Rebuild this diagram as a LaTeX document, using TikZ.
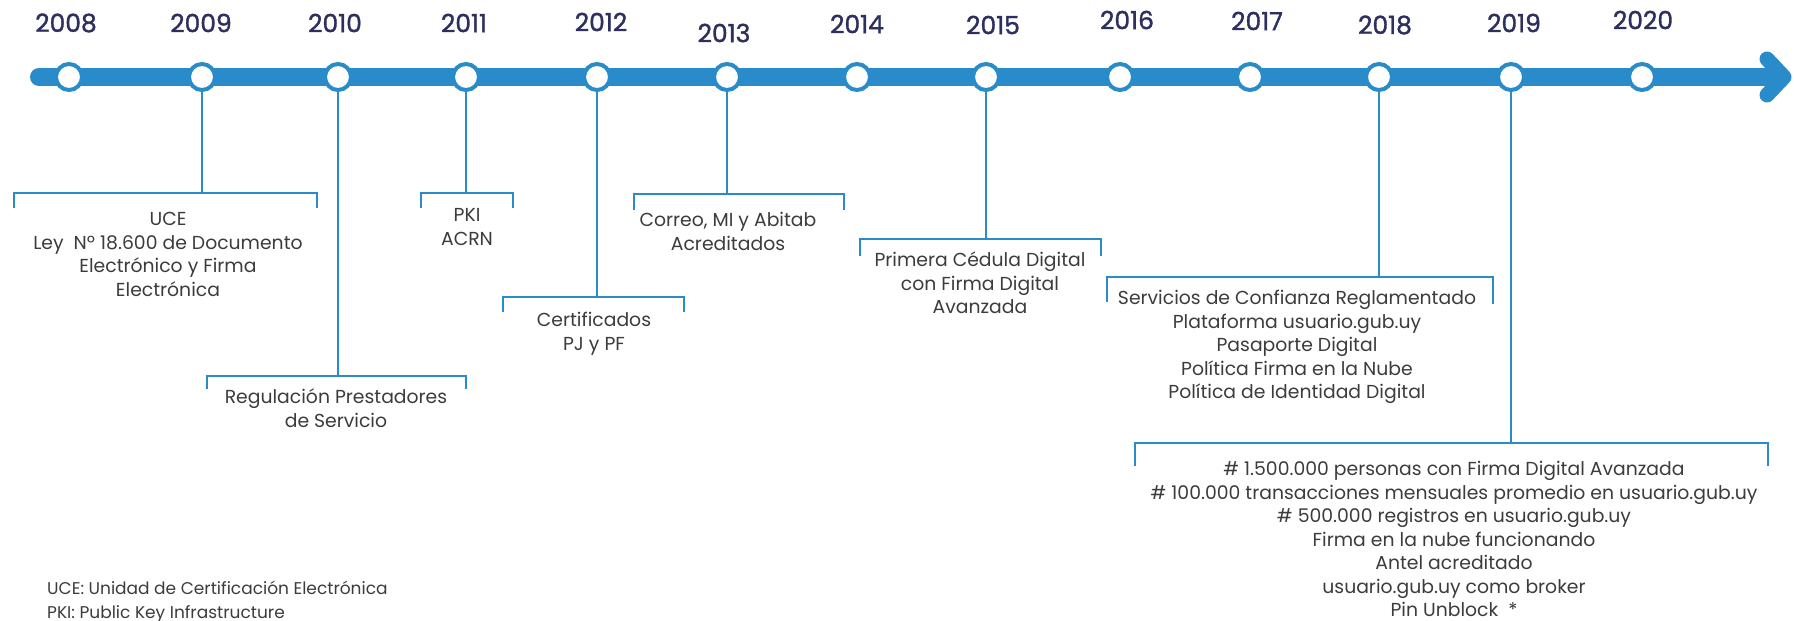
\documentclass[tikz,border=0pt]{standalone}
\usepackage{fontspec}
\setmainfont{Poppins}
\newfontfamily\yearfont{Poppins}[FakeBold=1.3]
\definecolor{tlblue}{HTML}{2A8BCB}
\definecolor{yearc}{HTML}{2D2F5F}
\definecolor{txtc}{HTML}{3C3C3C}
\begin{document}
\begin{tikzpicture}[x=1pt,y=-1pt,
  bar/.style={draw=tlblue, line width=18pt, line cap=round},
  year/.style={text=yearc, font=\yearfont\fontsize{25}{30}\selectfont, inner sep=0pt},
  dot/.style={circle, draw=tlblue, fill=white, line width=4pt, minimum size=26pt, inner sep=0pt},
  link/.style={draw=tlblue, line width=2.6pt},
  info/.style={text=txtc, font=\fontsize{18.8}{23.5}\selectfont, align=center, inner sep=0pt, anchor=north},
  legend/.style={text=txtc, font=\fontsize{17}{24}\selectfont, align=left, inner sep=0pt, anchor=north west}]
\useasboundingbox (0,0) rectangle (1794,621);
\fill[white] (0,0) rectangle (1794,621);

% timeline
\coordinate (tlstart) at (39,77);
\coordinate (tlend) at (1778,77);
\coordinate (tltip) at (1784,77);
\coordinate (armtop) at (1767,59);
\coordinate (armbot) at (1767,95);
\draw[bar] (tlstart) -- (tlend);
\draw[bar, line width=15pt, line join=round] (armtop) -- (tltip) -- (armbot);

\foreach \yr/\x in {2008/69, 2009/202, 2010/338, 2011/466, 2012/597, 2013/727, 2014/857,
                    2015/986, 2016/1120, 2017/1250, 2018/1379, 2019/1511, 2020/1642}
  \node[dot] (c\yr) at (\x,77) {};

\foreach \yr/\x/\y in {2008/66/23, 2009/201/23, 2010/335/23, 2011/464/23, 2012/601/22,
                       2013/724/33, 2014/857/24, 2015/993/25, 2016/1127/20, 2017/1257/21,
                       2018/1385/25, 2019/1514/23, 2020/1643/20}
  \node[year] (y\yr) at (\x,\y) {\yr};

% junction points on the brackets
\coordinate (j2009) at (202,193);
\coordinate (j2010) at (338,376);
\coordinate (j2011) at (466,193);
\coordinate (j2012) at (597,297);
\coordinate (j2013) at (727,194);
\coordinate (j2015) at (986,239);
\coordinate (j2018) at (1379,277);
\coordinate (j2019) at (1511,443);

\foreach \yr in {2009,2010,2011,2012,2013,2015,2018,2019}
  \draw[link] (c\yr.south) -- (j\yr);

% brackets
\draw[link] (14,208) |- (j2009) -| (317,208);
\draw[link] (207,389) |- (j2010) -| (466,389);
\draw[link] (421,208) |- (j2011) -| (513,208);
\draw[link] (503,312) |- (j2012) -| (684,312);
\draw[link] (634,210) |- (j2013) -| (844,210);
\draw[link] (860,256) |- (j2015) -| (1101,256);
\draw[link] (1107,302) |- (j2018) -| (1493,304);
\draw[link] (1135,466) |- (j2019) -| (1768,466);

% texts
\node[info] (t2009) at (168,209) {\strut UCE\\Ley~ Nº 18.600 de Documento\\Electrónico y Firma\\Electrónica};
\node[info] (t2010) at (336,387) {\strut Regulación Prestadores\\de Servicio};
\node[info] (t2011) at (467,205) {\strut PKI\\ACRN};
\node[info] (t2012) at (594,310) {\strut Certificados\\PJ y PF};
\node[info] (t2013) at (728,210) {\strut Correo, MI y Abitab\\Acreditados};
\node[info] (t2015) at (980,250) {\strut Primera Cédula Digital\\con Firma Digital\\Avanzada};
\node[info] (t2018) at (1297,288) {\strut Servicios de Confianza Reglamentado\\Plataforma usuario.gub.uy\\Pasaporte Digital\\Política Firma en la Nube\\Política de Identidad Digital};
\node[info] (t2019) at (1454,459) {\strut \# 1.500.000 personas con Firma Digital Avanzada\\\# 100.000 transacciones mensuales promedio en usuario.gub.uy\\\# 500.000 registros en usuario.gub.uy\\Firma en la nube funcionando\\Antel acreditado\\usuario.gub.uy como broker\\Pin Unblock~ *};

\node[legend] (leg) at (47,577) {\strut UCE: Unidad de Certificación Electrónica\\PKI: Public Key Infrastructure};
\end{tikzpicture}
\end{document}
